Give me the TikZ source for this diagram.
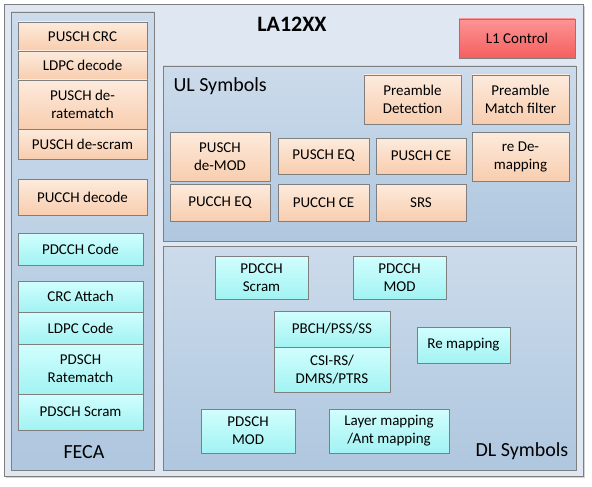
\documentclass[tikz,border=0pt]{standalone}
\usepackage{fontspec}
\setmainfont{Carlito}
\usetikzlibrary{shadows}
\definecolor{bgBlue}{HTML}{DFE8F2}
\definecolor{panTop}{HTML}{CCDBEB}
\definecolor{panBot}{HTML}{AFC7DF}
\definecolor{ulTop}{HTML}{FDEBDD}
\definecolor{ulBot}{HTML}{F8CDAE}
\definecolor{dlTop}{HTML}{D2FEFE}
\definecolor{dlBot}{HTML}{A2F3F3}
\definecolor{ctrlTop}{HTML}{FB9494}
\definecolor{ctrlBot}{HTML}{F65F5F}
\definecolor{edge}{HTML}{7F7F7F}

\begin{document}
\begin{tikzpicture}[x=1pt,y=-1pt,
  sz/.style n args={2}{minimum width=#1, minimum height=#2},
  panel/.style={draw=edge, line width=0.9pt, top color=panTop, bottom color=panBot, inner sep=0pt},
  blk/.style={draw=edge, line width=0.6pt, inner sep=0pt, align=center,
    font=\fontsize{15}{18}\selectfont},
  ublk/.style={blk, top color=ulTop, bottom color=ulBot},
  dblk/.style={blk, top color=dlTop, bottom color=dlBot},
  title/.style={font=\fontsize{20}{24}\selectfont}]
  \useasboundingbox (0,0) rectangle (592,487);

  % frame
  \node[draw=edge, line width=0.9pt, fill=bgBlue, sz={579}{472},
    drop shadow={shadow xshift=2pt, shadow yshift=-2pt, opacity=.35}] (la) at (293.5,240) {};
  \node[font=\fontsize{22}{26}\selectfont\bfseries] (laName) at (292,24) {LA12XX};
  \node[blk, top color=ctrlTop, bottom color=ctrlBot, sz={116}{39}] (l1) at (517,38.5) {L1 Control};

  % FECA
  \node[panel, sz={143}{458}] (feca) at (82.5,241) {};
  \node[ublk, sz={129}{29}] (pCRC) at (82.5,36.5) {PUSCH CRC};
  \node[ublk, sz={129}{29}] (ldpcDec) at (82.5,65.5) {LDPC decode};
  \node[ublk, sz={129}{49}] (deRate) at (82.5,104.5) {PUSCH de-\\ratematch};
  \node[ublk, sz={129}{30}] (deScram) at (82.5,144) {PUSCH de-scram};
  \node[ublk, sz={129}{36}] (pucchDec) at (82.5,197) {PUCCH decode};
  \node[dblk, sz={125}{32}] (pdcchCode) at (80.5,249) {PDCCH Code};
  \node[dblk, sz={125}{31}] (crcAtt) at (80.5,296.5) {CRC Attach};
  \node[dblk, sz={125}{32}] (ldpcCode) at (80.5,328) {LDPC Code};
  \node[dblk, sz={125}{50}] (rateMatch) at (80.5,369) {PDSCH\\Ratematch};
  \node[dblk, sz={125}{36}] (pdschScram) at (80.5,412) {PDSCH Scram};
  \node[title] (fecaName) at (84,452) {FECA};

  % UL Symbols
  \node[panel, sz={413}{175}] (ul) at (369.5,153.5) {};
  \node[title, anchor=west] (ulName) at (170,86) {UL Symbols};
  \node[ublk, sz={97}{49}] (preDet) at (412.5,99.5) {Preamble\\Detection};
  \node[ublk, sz={97}{49}] (preMF) at (520.5,99.5) {Preamble\\Match filter};
  \node[ublk, sz={97}{49}] (reDemap) at (520.5,156.5) {re De-\\mapping};
  \node[ublk, sz={100}{49}] (puschMod) at (220,156.5) {PUSCH\\de-MOD};
  \node[ublk, sz={91}{36}] (puschEq) at (323.5,156) {PUSCH EQ};
  \node[ublk, sz={90}{36}] (puschCe) at (421,156) {PUSCH CE};
  \node[ublk, sz={100}{37}] (pucchEq) at (220,202.5) {PUCCH EQ};
  \node[ublk, sz={91}{37}] (pucchCe) at (323.5,202.5) {PUCCH CE};
  \node[ublk, sz={90}{37}] (srs) at (421,202.5) {SRS};

  % DL Symbols
  \node[panel, sz={413}{224}] (dl) at (369.5,358) {};
  \node[dblk, sz={93}{43}] (pdcchScram) at (261.5,277.5) {PDCCH\\Scram};
  \node[dblk, sz={93}{43}] (pdcchMod) at (399.5,277.5) {PDCCH\\MOD};
  \node[dblk, sz={116}{36}] (pbch) at (332,329) {PBCH/PSS/SS};
  \node[dblk, sz={116}{45}] (csiRs) at (332,369.5) {CSI-RS/\\DMRS/PTRS};
  \node[dblk, sz={93}{36}] (reMap) at (463.5,345) {Re mapping};
  \node[dblk, sz={94}{44}] (pdschMod) at (248,431) {PDSCH\\MOD};
  \node[dblk, sz={120}{44}] (layerMap) at (389,431) {Layer mapping\\/Ant mapping};
  \node[title] (dlName) at (522,451) {DL Symbols};
\end{tikzpicture}
\end{document}
